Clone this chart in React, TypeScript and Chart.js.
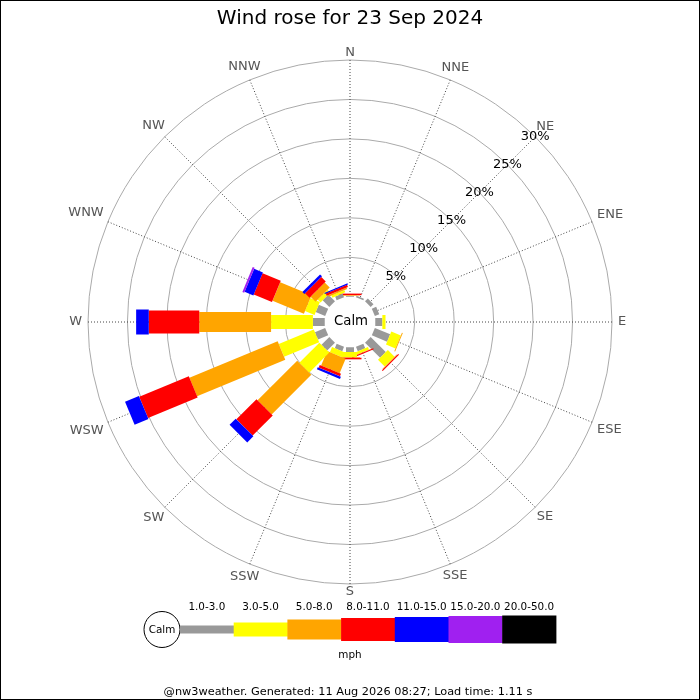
import React, { useEffect, useRef } from "react";
import { Chart, registerables } from "chart.js";

Chart.register(...registerables);

// ---- data ----
const titleText = "Wind rose for 23 Sep 2024";
const footerText = "@nw3weather. Generated: 11 Aug 2026 08:27; Load time: 1.11 s";
const unitText = "mph";
const calmText = "Calm";

const directions = ["N", "NNE", "NE", "ENE", "E", "ESE", "SE", "SSE", "S", "SSW", "SW", "WSW", "W", "WNW", "NW", "NNW"];
const speedBands = ["1.0-3.0", "3.0-5.0", "5.0-8.0", "8.0-11.0", "11.0-15.0", "15.0-20.0", "20.0-50.0"];

// percentage of time, per direction (N ... NNW)
const band1to3 = [0.1, 0.2, 0.5, 0.6, 0.9, 2.1, 2.7, 0.6, 0.6, 0.6, 1.4, 1.4, 1.5, 1.3, 1.2, 0.5];
const band3to5 = [0.05, 0, 0, 0, 0.4, 1.3, 1.2, 0.35, 0.65, 0.7, 3.6, 4.8, 5.3, 1.3, 0.5, 0.3];
const band5to8 = [0.05, 0, 0, 0, 0, 0.12, 0.08, 0.05, 0.08, 2.0, 7.1, 12.1, 9.1, 4.3, 0.9, 0.2];
const band8to11 = [0.2, 0, 0, 0, 0, 0, 0.15, 0.15, 0.2, 0.35, 3.6, 6.8, 6.4, 2.5, 0.8, 0.3];
const band11to15 = [0, 0, 0, 0, 0, 0, 0, 0, 0, 0.3, 1.1, 1.9, 1.6, 1.2, 0.35, 0.15];
const band15to20 = [0, 0, 0, 0, 0, 0, 0, 0, 0, 0, 0, 0, 0, 0.25, 0, 0];
const band20to50 = [0, 0, 0, 0, 0, 0, 0, 0, 0, 0, 0, 0, 0, 0, 0, 0];

const tickValues = [5, 10, 15, 20, 25, 30];

// ---- styles ----
const bandColors = ["#999999", "#ffff00", "#ffa500", "#ff0000", "#0000ff", "#a020f0", "#000000"];
const bandWidths = [8, 14, 20, 23, 25, 27, 28];
const FONT = "'DejaVu Sans', sans-serif";

const roseBars = {
  id: "roseBars",
  beforeDatasetsDraw(chart: any) {
    const scale = chart.scales.r;
    const ctx = chart.ctx;
    ctx.save();
    // direction labels
    ctx.fillStyle = "#555555";
    ctx.font = `13px ${FONT}`;
    ctx.textAlign = "center";
    ctx.textBaseline = "middle";
    chart.data.labels.forEach((lab: string, i: number) => {
      const a = scale.getIndexAngle(i);
      const w = ctx.measureText(lab).width;
      const s = Math.abs(Math.sin(a));
      const c = Math.abs(Math.cos(a));
      const d = scale.drawingArea + 3 + (w / 2) * s + 3 * s * s + 4.75 * c;
      const p = scale.getPointPosition(i, d);
      ctx.fillText(lab, p.x, p.y);
    });
    // calm circle
    const rc = scale.getDistanceFromCenterForValue(0);
    ctx.fillStyle = "#ffffff";
    ctx.beginPath();
    ctx.arc(scale.xCenter, scale.yCenter, rc + 0.5, 0, Math.PI * 2);
    ctx.fill();
    ctx.fillStyle = "#000000";
    ctx.font = `13.3px ${FONT}`;
    ctx.fillText(calmText, scale.xCenter + 1, scale.yCenter);
    ctx.restore();
  },
  afterDatasetsDraw(chart: any) {
    const scale = chart.scales.r;
    const ctx = chart.ctx;
    const datasets = chart.data.datasets;
    ctx.save();
    for (let i = 0; i < directions.length; i++) {
      let cum = 0;
      const ang = scale.getIndexAngle(i) - Math.PI / 2;
      const ux = Math.cos(ang);
      const uy = Math.sin(ang);
      datasets.forEach((ds: any, k: number) => {
        const v = ds.data[i];
        if (!v || v <= 0) return;
        const p0 = scale.getPointPositionForValue(i, cum);
        const p1 = scale.getPointPositionForValue(i, cum + v);
        cum += v;
        const hw = bandWidths[k] / 2;
        const nx = -uy * hw;
        const ny = ux * hw;
        ctx.fillStyle = ds.backgroundColor;
        ctx.beginPath();
        ctx.moveTo(p0.x + nx, p0.y + ny);
        ctx.lineTo(p1.x + nx, p1.y + ny);
        ctx.lineTo(p1.x - nx, p1.y - ny);
        ctx.lineTo(p0.x - nx, p0.y - ny);
        ctx.closePath();
        ctx.fill();
      });
    }
    // percentage labels along NE
    ctx.fillStyle = "#000000";
    ctx.font = `13px ${FONT}`;
    ctx.textAlign = "center";
    ctx.textBaseline = "middle";
    const neIndex = directions.indexOf("NE");
    scale.ticks.forEach((t: any) => {
      const p = scale.getPointPositionForValue(neIndex, t.value);
      ctx.fillText(`${t.value}%`, p.x, p.y);
    });
    ctx.restore();
  },
  afterDraw(chart: any) {
    const ctx = chart.ctx;
    ctx.save();
    // legend
    const cx = 162;
    const cy = 629.5;
    ctx.fillStyle = "#ffffff";
    ctx.strokeStyle = "#000000";
    ctx.lineWidth = 1;
    ctx.beginPath();
    ctx.arc(cx, cy, 18, 0, Math.PI * 2);
    ctx.fill();
    ctx.stroke();
    ctx.fillStyle = "#000000";
    ctx.font = `10.4px ${FONT}`;
    ctx.textAlign = "center";
    ctx.textBaseline = "middle";
    ctx.fillText(calmText, cx, cy + 1);
    const x0 = 180;
    const segW = 53.7;
    speedBands.forEach((label, k) => {
      const x = x0 + k * segW;
      const h = bandWidths[k];
      ctx.fillStyle = bandColors[k];
      ctx.fillRect(x, cy - h / 2, segW + 0.5, h);
      ctx.fillStyle = "#000000";
      ctx.fillText(label, x + segW / 2, 607);
    });
    ctx.fillText(unitText, 350, 655);
    ctx.font = `11.3px ${FONT}`;
    ctx.fillText(footerText, 348, 692);
    // frame
    ctx.strokeStyle = "#000000";
    ctx.lineWidth = 1;
    ctx.strokeRect(0.5, 0.5, 699, 699);
    ctx.restore();
  },
};

export default function App() {
  const canvasRef = useRef<HTMLCanvasElement | null>(null);

  useEffect(() => {
    document.body.style.margin = "0";
    const canvas = canvasRef.current;
    if (!canvas) return;
    const bandValues = [band1to3, band3to5, band5to8, band8to11, band11to15, band15to20, band20to50];
    const chart = new Chart(canvas, {
      type: "radar",
      data: {
        labels: directions,
        datasets: speedBands.map((label, k) => ({
          label,
          data: bandValues[k],
          backgroundColor: bandColors[k],
          borderColor: bandColors[k],
          borderWidth: 0,
          pointRadius: 0,
          pointHitRadius: 0,
          showLine: false,
          fill: false,
        })),
      },
      options: {
        animation: false,
        responsive: false,
        layout: { padding: { left: 88, right: 88, top: 0, bottom: 116 } },
        plugins: {
          legend: { display: false },
          tooltip: { enabled: false },
          title: {
            display: true,
            text: titleText,
            color: "#000000",
            font: { family: FONT, size: 20, weight: "normal" },
            padding: { top: 7, bottom: 29 },
          },
        },
        scales: {
          r: {
            min: -3.2,
            max: 30,
            startAngle: 0,
            afterBuildTicks: (s: any) => {
              s.ticks = tickValues.map((v) => ({ value: v }));
            },
            ticks: { display: false, stepSize: 5 },
            grid: { circular: true, color: "#aaaaaa", lineWidth: 1 },
            angleLines: { display: true, color: "#444444", lineWidth: 1, borderDash: [1, 2] },
            pointLabels: { display: false },
          },
        },
      },
      plugins: [roseBars],
    } as any);
    return () => chart.destroy();
  }, []);

  return (
    <div style={{ width: 700, height: 700, background: "#ffffff" }}>
      <canvas ref={canvasRef} width={700} height={700} style={{ display: "block" }} />
    </div>
  );
}
